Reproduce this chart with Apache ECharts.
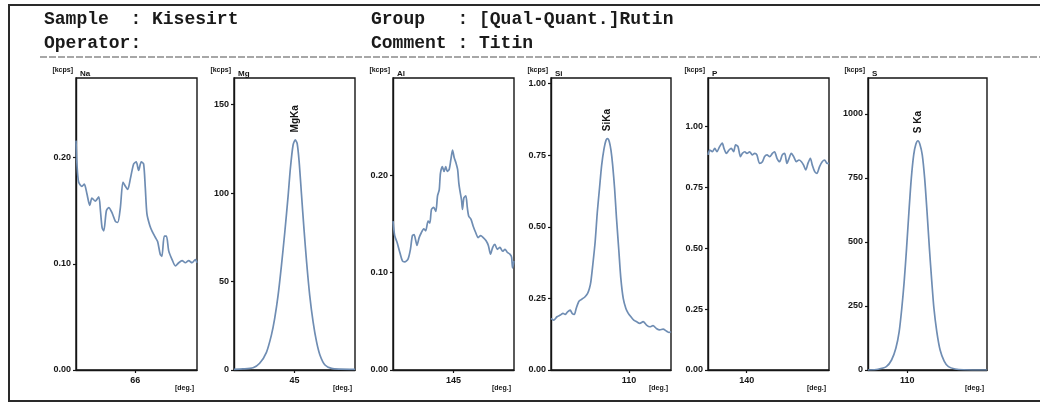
<!DOCTYPE html>
<html><head><meta charset="utf-8">
<script src="https://cdn.jsdelivr.net/npm/echarts@6/dist/echarts.min.js"></script>
<style>html,body{margin:0;padding:0;background:#fff}#c{width:1040px;height:403px}</style>
</head><body><div id="c"></div>
<script>
const elements = ['Na', 'Mg', 'Al', 'Si', 'P', 'S'];
const peakNames = [null, 'MgKa', null, 'SiKa', null, 'S Ka'];

const naDeg = [63.50,63.54,63.61,63.75,63.85,63.96,64.08,64.17,64.31,64.46,64.53,64.60,64.67,64.78,64.88,65.02,65.16,65.26,65.37,65.48,65.58,65.68,65.79,65.93,66.04,66.14,66.25,66.35,66.42,66.49,66.61,66.70,66.84,66.94,67.05,67.12,67.22,67.31,67.41,67.55,67.69,67.83,67.97,68.11,68.25,68.39,68.53,68.60];
const naKcps = [0.216,0.194,0.177,0.173,0.175,0.166,0.155,0.162,0.159,0.163,0.150,0.134,0.131,0.150,0.153,0.148,0.140,0.139,0.153,0.177,0.173,0.170,0.180,0.194,0.196,0.188,0.196,0.194,0.172,0.147,0.136,0.131,0.125,0.121,0.109,0.107,0.126,0.126,0.112,0.104,0.098,0.101,0.103,0.101,0.103,0.101,0.104,0.101];

const mgDeg = [42.50,42.87,43.29,43.56,43.84,44.05,44.18,44.32,44.46,44.60,44.74,44.83,44.94,45.03,45.11,45.19,45.29,45.39,45.50,45.63,45.77,45.91,46.05,46.26,46.53,46.88,47.50];
const mgKcps = [0.4,0.6,1.3,3.8,10,20,29,42,59,78,99,114,127,130,128,118,99,80,61,42,27,16,8.5,2.8,0.9,0.5,0.4];

const alDeg = [142.50,142.57,142.67,142.78,142.89,142.98,143.12,143.22,143.30,143.37,143.44,143.49,143.58,143.67,143.77,143.85,143.95,144.02,144.09,144.18,144.27,144.34,144.41,144.46,144.54,144.61,144.68,144.74,144.82,144.89,144.96,145.03,145.10,145.17,145.22,145.26,145.33,145.37,145.43,145.51,145.57,145.63,145.72,145.81,145.92,146.02,146.12,146.23,146.34,146.44,146.53,146.62,146.71,146.81,146.92,147.03,147.13,147.22,147.33,147.40,147.44,147.50];
const alKcps = [0.153,0.138,0.131,0.121,0.112,0.111,0.114,0.124,0.138,0.139,0.133,0.128,0.136,0.141,0.145,0.143,0.153,0.151,0.165,0.167,0.163,0.179,0.185,0.202,0.209,0.204,0.209,0.204,0.206,0.216,0.226,0.218,0.213,0.206,0.192,0.185,0.175,0.165,0.177,0.179,0.167,0.158,0.155,0.148,0.141,0.136,0.138,0.136,0.133,0.128,0.119,0.126,0.129,0.124,0.126,0.122,0.124,0.121,0.119,0.116,0.105,0.112];

const siDeg = [106.75,106.86,107.00,107.14,107.25,107.34,107.44,107.55,107.63,107.72,107.80,107.90,107.97,108.08,108.17,108.27,108.35,108.41,108.49,108.59,108.68,108.77,108.86,108.96,109.04,109.11,109.18,109.25,109.32,109.40,109.48,109.58,109.66,109.76,109.87,109.97,110.08,110.20,110.31,110.45,110.59,110.73,110.87,111.00,111.14,111.28,111.42,111.56,111.67,111.75];
const siKcps = [0.180,0.174,0.186,0.192,0.198,0.194,0.203,0.209,0.198,0.194,0.215,0.238,0.244,0.250,0.256,0.267,0.285,0.308,0.366,0.448,0.552,0.634,0.715,0.773,0.802,0.808,0.797,0.767,0.715,0.634,0.529,0.413,0.320,0.250,0.215,0.198,0.186,0.174,0.169,0.163,0.169,0.157,0.151,0.155,0.145,0.140,0.143,0.136,0.131,0.134];

const pDeg = [138.40,138.47,138.58,138.68,138.77,138.88,138.99,139.06,139.16,139.27,139.36,139.46,139.54,139.64,139.74,139.82,139.92,140.01,140.12,140.23,140.33,140.42,140.53,140.65,140.74,140.84,140.95,141.06,141.15,141.25,141.36,141.47,141.57,141.66,141.75,141.84,141.94,142.05,142.16,142.26,142.35,142.44,142.53,142.63,142.71,142.81,142.90,143.01,143.12,143.22,143.32,143.40];
const pKcps = [0.884,0.904,0.897,0.911,0.897,0.918,0.932,0.911,0.890,0.904,0.911,0.897,0.925,0.918,0.877,0.890,0.897,0.890,0.897,0.884,0.890,0.884,0.849,0.856,0.877,0.884,0.877,0.890,0.897,0.870,0.856,0.884,0.890,0.849,0.870,0.890,0.877,0.856,0.863,0.856,0.842,0.822,0.849,0.870,0.842,0.815,0.808,0.836,0.856,0.863,0.849,0.849];

const sDeg = [108.35,108.77,109.12,109.34,109.52,109.66,109.77,109.87,109.97,110.07,110.17,110.27,110.36,110.45,110.53,110.63,110.73,110.83,110.93,111.03,111.12,111.24,111.38,111.55,111.73,112.01,112.36,113.35];
const sKcps = [0,3,13,39,85,150,241,345,475,618,749,840,881,895,881,840,749,618,475,345,241,150,78,35,13,4,1,0];

const xTickValues = [[66], [45], [145], [110], [140], [110]];
const xTickLabels = [['66'], ['45'], ['145'], ['110'], ['140'], ['110']];
const yTickValues = [[0, 0.1, 0.2], [0, 50, 100, 150], [0, 0.1, 0.2], [0, 0.25, 0.5, 0.75, 1.0], [0, 0.25, 0.5, 0.75, 1.0], [0, 250, 500, 750, 1000]];
const yTickLabels = [['0.00','0.10','0.20'], ['0','50','100','150'], ['0.00','0.10','0.20'], ['0.00','0.25','0.50','0.75','1.00'], ['0.00','0.25','0.50','0.75','1.00'], ['0','250','500','750','1000']];
const xRanges = [[63.5, 68.6], [42.5, 47.5], [142.5, 147.5], [106.75, 111.75], [138.4, 143.4], [108.35, 113.35]];
const yMax = [0.275, 165, 0.30, 1.02, 1.20, 1140];

const headerLeft = ['Sample  : Kisesirt', 'Operator:'];
const headerRight = ['Group   : [Qual-Quant.]Rutin', 'Comment : Titin'];

// ---- layout / style ----
const degs = [naDeg, mgDeg, alDeg, siDeg, pDeg, sDeg];
const kcps = [naKcps, mgKcps, alKcps, siKcps, pKcps, sKcps];
const gridLefts = [76, 234, 393, 551, 708, 868];
const gridWidths = [121, 121, 121, 120, 121, 119];
const gridTop = 78, gridHeight = 292;
const ink = '#151515';
const sans = '"Liberation Sans", Arial, sans-serif';
const mono = '"Liberation Mono", "Courier New", monospace';
const lineColor = '#6f8db3';

const chart = echarts.init(document.getElementById('c'), null, {renderer: 'canvas'});

const grid = [], xAxis = [], yAxis = [], series = [], graphic = [];

function labelFrom(values, labels) {
  return function (v) {
    for (let k = 0; k < values.length; k++) if (Math.abs(values[k] - v) < 1e-9) return labels[k];
    return '';
  };
}

for (let i = 0; i < elements.length; i++) {
  grid.push({left: gridLefts[i], top: gridTop, width: gridWidths[i], height: gridHeight,
    show: true, borderColor: ink, borderWidth: 1.4, backgroundColor: 'transparent'});
  xAxis.push({
    type: 'value', gridIndex: i, min: xRanges[i][0], max: xRanges[i][1],
    axisLine: {show: true, onZero: false, lineStyle: {color: ink, width: 1.4}},
    axisTick: {show: true, customValues: xTickValues[i], length: 3, lineStyle: {color: ink, width: 1.2}},
    axisLabel: {show: true, customValues: xTickValues[i], formatter: labelFrom(xTickValues[i], xTickLabels[i]),
      fontSize: 9, fontWeight: 'bold', color: ink, fontFamily: sans, margin: 6},
    splitLine: {show: false},
    name: '[deg.]', nameLocation: 'end', nameGap: -3,
    nameTextStyle: {fontSize: 7, fontWeight: 'bold', color: ink, fontFamily: sans, align: 'right', verticalAlign: 'top', padding: [15, 0, 0, 0]}
  });
  yAxis.push({
    type: 'value', gridIndex: i, min: 0, max: yMax[i],
    axisLine: {show: true, lineStyle: {color: ink, width: 1.4}},
    axisTick: {show: true, customValues: yTickValues[i], length: 3, lineStyle: {color: ink, width: 1.2}},
    axisLabel: {show: true, customValues: yTickValues[i], formatter: labelFrom(yTickValues[i], yTickLabels[i]),
      fontSize: 9, fontWeight: 'bold', color: ink, fontFamily: sans, margin: 5},
    splitLine: {show: false},
    name: '[kcps]', nameLocation: 'end', nameGap: 4,
    nameTextStyle: {fontSize: 7, fontWeight: 'bold', color: ink, fontFamily: sans, align: 'right', verticalAlign: 'bottom', padding: [0, 3, 0, 0]}
  });
  const s = {
    type: 'line', xAxisIndex: i, yAxisIndex: i, showSymbol: false, symbol: 'none', smooth: 0.25,
    data: degs[i].map((d, k) => [d, kcps[i][k]]),
    lineStyle: {color: lineColor, width: 1.7}, silent: true, animation: false
  };
  if (peakNames[i]) {
    s.markPoint = {
      symbol: 'circle', symbolSize: 1, itemStyle: {color: 'rgba(0,0,0,0)'}, animation: false,
      data: [{type: 'max'}],
      label: {show: true, formatter: peakNames[i], position: 'top', distance: 7, rotate: 90,
        align: 'left', verticalAlign: 'middle', fontSize: 10, fontWeight: 'bold', color: ink, fontFamily: sans}
    };
  }
  series.push(s);
  graphic.push({type: 'text', left: gridLefts[i] + 4, top: gridTop - 8,
    style: {text: elements[i], font: 'bold 8px ' + sans, fill: ink}});
}

// page frame and header
graphic.push({type: 'rect', shape: {x: 9, y: 5, width: 1050, height: 396},
  style: {fill: 'none', stroke: '#2a2a2a', lineWidth: 2}});
graphic.push({type: 'line', shape: {x1: 40, y1: 57, x2: 1040, y2: 57},
  style: {stroke: '#8a8a8a', lineWidth: 1.5, lineDash: [7, 2]}});
for (let r = 0; r < 2; r++) {
  graphic.push({type: 'text', x: 44, y: 19 + r * 24,
    style: {text: headerLeft[r], font: 'bold 18px ' + mono, fill: '#1a1a1a', textVerticalAlign: 'middle'}});
  graphic.push({type: 'text', x: 371, y: 19 + r * 24,
    style: {text: headerRight[r], font: 'bold 18px ' + mono, fill: '#1a1a1a', textVerticalAlign: 'middle'}});
}

chart.setOption({animation: false, backgroundColor: '#fff', grid, xAxis, yAxis, series, graphic});
</script>
</body></html>
